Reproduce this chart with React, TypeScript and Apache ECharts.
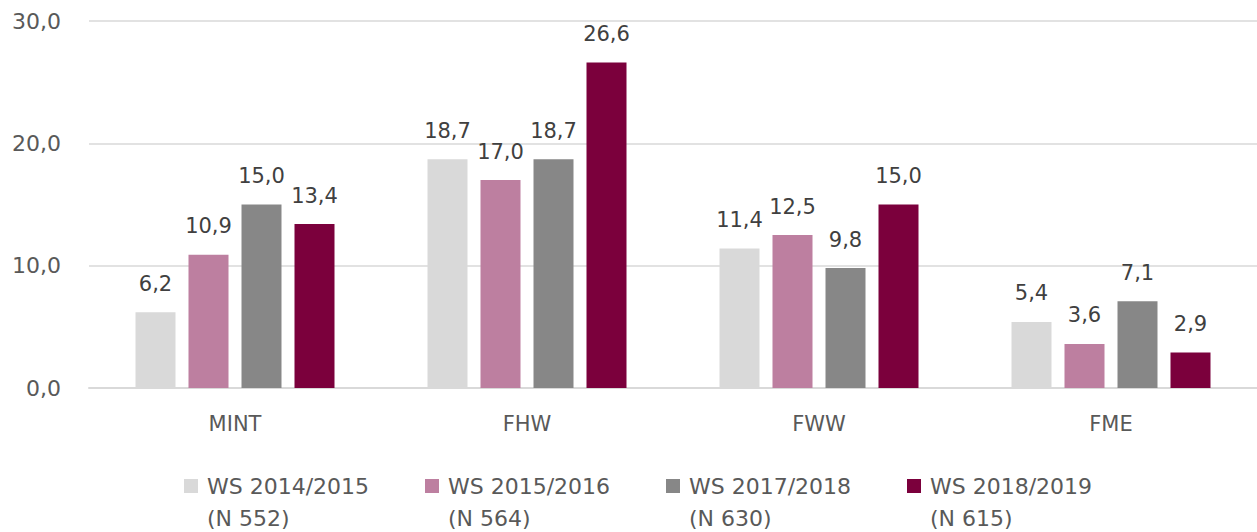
import React, { useEffect, useRef } from "react";
import * as echarts from "echarts";

const categories = ["MINT", "FHW", "FWW", "FME"];
const seriesNames = ["WS 2014/2015", "WS 2015/2016", "WS 2017/2018", "WS 2018/2019"];
const seriesN = ["(N 552)", "(N 564)", "(N 630)", "(N 615)"];
const ws1415 = [6.2, 18.7, 11.4, 5.4];
const ws1516 = [10.9, 17.0, 12.5, 3.6];
const ws1718 = [15.0, 18.7, 9.8, 7.1];
const ws1819 = [13.4, 26.6, 15.0, 2.9];
const colors = ["#d9d9d9", "#bd7fa0", "#878787", "#7b003c"];
const yTicks = [0, 10, 20, 30];

const fmt = (v: number) => v.toFixed(1).replace(".", ",");
const FONT = "DejaVu Sans";

export default function App() {
  const ref = useRef<HTMLDivElement>(null);
  useEffect(() => {
    if (!ref.current) return;
    const chart = echarts.init(ref.current, null, { renderer: "svg" });
    const values = [ws1415, ws1516, ws1718, ws1819];
    const legendText = {
      color: "#595959",
      fontSize: 22,
      fontFamily: FONT,
      lineHeight: 26,
      width: 173,
      overflow: "none",
      padding: [0, 0, 0, 4],
    };
    chart.setOption({
      animation: false,
      backgroundColor: "#ffffff",
      grid: { left: 89, right: 0, top: 21, bottom: 144, containLabel: false },
      xAxis: {
        type: "category",
        data: categories,
        axisLine: { show: true, lineStyle: { color: "#d9d9d9", width: 2 } },
        axisTick: { show: false },
        axisLabel: { color: "#595959", fontSize: 21, fontFamily: FONT, margin: 25 },
      },
      yAxis: {
        type: "value",
        min: yTicks[0],
        max: yTicks[yTicks.length - 1],
        interval: 10,
        axisLine: { show: false },
        axisTick: { show: false },
        splitLine: { lineStyle: { color: "#d9d9d9", width: 1.5 } },
        axisLabel: {
          color: "#595959",
          fontSize: 22,
          fontFamily: FONT,
          margin: 28,
          formatter: (v: number) => fmt(v),
        },
      },
      legend: [
        {
          left: 179,
          top: 468,
          itemWidth: 14,
          itemHeight: 14,
          itemGap: 45,
          icon: "rect",
          data: seriesNames,
          textStyle: legendText,
        },
        {
          left: 179,
          top: 502,
          itemWidth: 14,
          itemHeight: 14,
          itemGap: 45,
          icon: "rect",
          data: seriesNames,
          itemStyle: { opacity: 0, color: "rgba(0,0,0,0)", borderWidth: 0 },
          formatter: (name: string) => seriesN[seriesNames.indexOf(name)],
          textStyle: { ...legendText, lineHeight: 20 },
        },
      ],
      series: seriesNames.map((name, i) => ({
        name,
        type: "bar",
        data: values[i],
        barWidth: 40,
        barGap: "32.5%",
        itemStyle: { color: colors[i] },
        label: {
          show: true,
          position: "top",
          distance: 18,
          color: "#404040",
          fontSize: 21,
          fontFamily: FONT,
          formatter: (p: any) => fmt(p.value),
        },
      })),
    });
    return () => chart.dispose();
  }, []);
  return (
    <div
      ref={ref}
      style={{ position: "fixed", left: 0, top: 0, width: 1257, height: 532 }}
    />
  );
}
